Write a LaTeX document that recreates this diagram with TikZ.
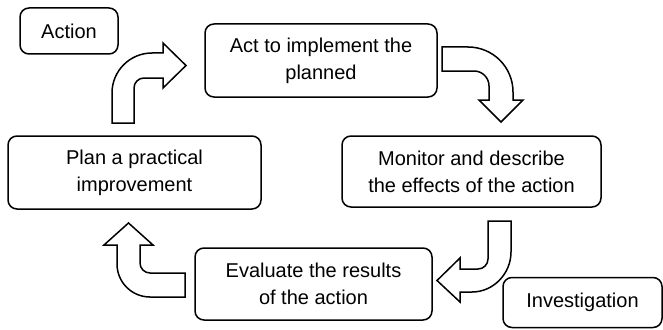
\documentclass[tikz,border=0pt]{standalone}
\usepackage{fontspec}
\setmainfont{Liberation Sans}
\begin{document}
\begin{tikzpicture}[x=1pt,y=-1pt,
  box/.style={draw=black,line width=1.5pt,rounded corners=9pt,fill=white,
    align=center,inner sep=0pt,font=\fontsize{20}{27}\selectfont},
  blockarrow/.style={draw=black,line width=1.5pt,fill=white,line join=miter}]
\useasboundingbox (0,0) rectangle (663,329);
\fill[white] (0,0) rectangle (663,329);
% boxes
\node[box,minimum width=98pt,minimum height=46pt] (action) at (69,31) {Action};
\node[box,minimum width=232pt,minimum height=73pt] (act) at (321,60.5) {Act to implement the\\planned};
\node[box,minimum width=259pt,minimum height=71pt] (monitor) at (471.5,171.5) {Monitor and describe\\the effects of the action};
\node[box,minimum width=253pt,minimum height=73pt] (plan) at (134.5,172.5) {Plan a practical\\improvement};
\node[box,minimum width=237pt,minimum height=72pt] (evaluate) at (313.5,284) {Evaluate the results\\of the action};
\node[box,minimum width=159pt,minimum height=50pt] (invest) at (582.5,302.5) {Investigation};
% block arrows
% plan -> act
\draw[blockarrow] (112,123) -- (112,93) .. controls (112,70.9) and (129.9,53) .. (152,53)
  -- (163,53) -- (163,43) -- (186,65.5) -- (163,88) -- (163,78) -- (144,78)
  .. controls (138.5,78) and (134,82.5) .. (134,88) -- (134,123) -- cycle;
% act -> monitor
\draw[blockarrow] (442,47) -- (468,47) .. controls (492.9,47) and (513,67.1) .. (513,92)
  -- (513,100) -- (523,100) -- (501,122) -- (479,100) -- (489,100) -- (489,86)
  .. controls (489,77.7) and (482.3,71) .. (474,71) -- (442,71) -- cycle;
% monitor -> evaluate
\draw[blockarrow] (488,221) -- (511,221) -- (511,252) .. controls (511,273.5) and (493.5,292) .. (472,292)
  -- (460,292) -- (460,302) -- (437,280.5) -- (460,258) -- (460,269) -- (478,269)
  .. controls (483.5,269) and (488,264.5) .. (488,259) -- cycle;
% evaluate -> plan
\draw[blockarrow] (185,273) -- (150,273) .. controls (144.5,273) and (140,268.5) .. (140,263)
  -- (140,245) -- (153,245) -- (128.5,223) -- (104,245) -- (117,245) -- (117,264)
  .. controls (117,282.2) and (131.8,297) .. (150,297) -- (185,297) -- cycle;
\end{tikzpicture}
\end{document}
